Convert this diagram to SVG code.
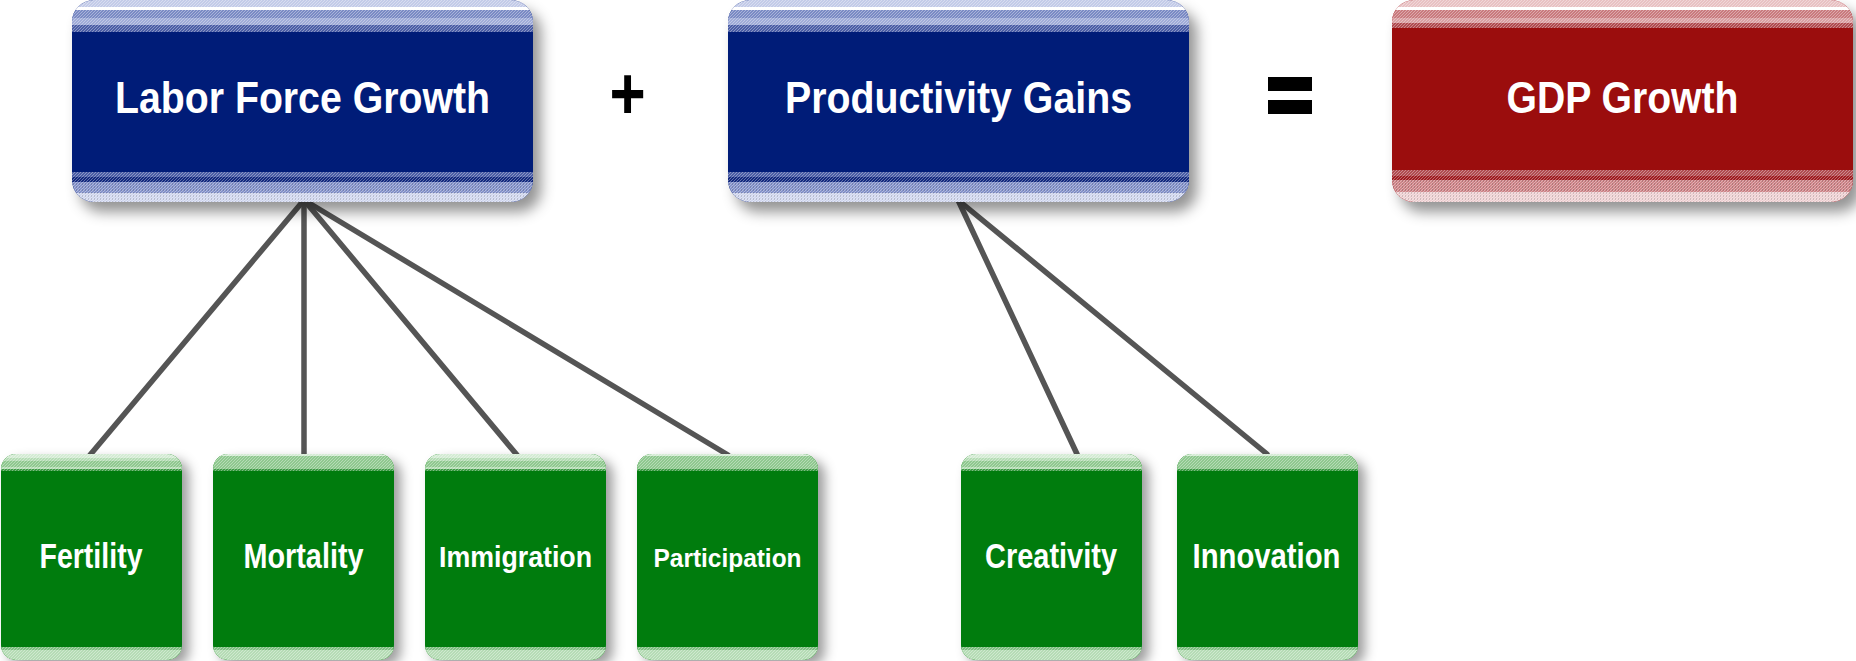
<svg xmlns="http://www.w3.org/2000/svg" width="1856" height="661" viewBox="0 0 1856 661">
  <defs>
    <filter id="shadow" x="-10%" y="-10%" width="130%" height="140%">
      <feDropShadow dx="8" dy="10" stdDeviation="7" flood-color="#000" flood-opacity="0.42"/>
    </filter>
    <filter id="shadowS" x="-15%" y="-10%" width="140%" height="130%">
      <feDropShadow dx="7" dy="6" stdDeviation="6" flood-color="#000" flood-opacity="0.38"/>
    </filter>
    <!-- fine dither texture for the striped bands -->
    <pattern id="dither" width="3" height="3" patternUnits="userSpaceOnUse">
      <rect x="0" y="0" width="1" height="1" fill="#fff"/>
      <rect x="2" y="1" width="1" height="1" fill="#fff"/>
      <rect x="1" y="2" width="1" height="1" fill="#fff"/>
    </pattern>
    <pattern id="ditherD" width="3" height="3" patternUnits="userSpaceOnUse">
      <rect x="1" y="0" width="1" height="2" fill="#000"/>
    </pattern>
    <clipPath id="topClip"><rect x="0" y="0" width="461" height="202" rx="22"/></clipPath>
    <clipPath id="botClip"><rect x="0" y="0" width="181" height="206" rx="15"/></clipPath>
  </defs>
  <style>
    .title { font-family: "Liberation Sans Narrow", "Liberation Sans", Arial, sans-serif; font-weight: bold; fill: #fff; text-anchor: middle; }
    .top { font-size: 44px; }
    .leaf { font-size: 35px; }
    .op { font-family: "Liberation Sans", Arial, sans-serif; font-weight: bold; fill: #000; text-anchor: middle; }
    .link { stroke: #555; stroke-width: 5.5; stroke-linecap: round; fill: none; }
    .blue .body { fill: #001F78; }
    .blue .b1 { fill: #c3cbe8; } .blue .b2 { fill: #7a8ac4; } .blue .b3 { fill: #a0acd8; } .blue .b4 { fill: #4b5ea6; } .blue .b5 { fill: #13297f; } .blue .b6 { fill: #8593cb; } .blue .b7 { fill: #d2d8ef; }
    .red .body { fill: #9B0B10; }
    .red .b1 { fill: #e8c1c3; } .red .b2 { fill: #c97a7e; } .red .b3 { fill: #d9a0a3; } .red .b4 { fill: #b04b50; } .red .b5 { fill: #9e1b20; } .red .b6 { fill: #cf8589; } .red .b7 { fill: #efd2d4; }
    .green .body { fill: #007C0C; }
    .green .g1 { fill: #d4ebd4; } .green .g2 { fill: #8fc88f; } .green .g3 { fill: #b5dcb5; } .green .g4 { fill: #3c9a44; } .green .g5 { fill: #7fbf82; }
    .tex { fill: url(#dither); opacity: 0.35; }
    .texd { fill: url(#ditherD); opacity: 0.12; }
  </style>

  <!-- connectors -->
  <g id="connectors">
    <line class="link" x1="304" y1="200" x2="90" y2="455"/>
    <line class="link" x1="304" y1="200" x2="304" y2="455"/>
    <line class="link" x1="304" y1="200" x2="517" y2="455"/>
    <line class="link" x1="304" y1="200" x2="728" y2="455"/>
    <line class="link" x1="958" y1="200" x2="1077" y2="454"/>
    <line class="link" x1="958" y1="200" x2="1267" y2="454"/>
  </g>

  <!-- top row -->
  <g id="labor" class="blue" transform="translate(72,0)">
    <rect class="body" x="0" y="0" width="461" height="202" rx="22" filter="url(#shadow)"/>
    <g clip-path="url(#topClip)">
      <rect class="b1" x="0" y="0" width="461" height="7"/>
      <rect x="0" y="7" width="461" height="3" fill="#fff"/>
      <rect class="b2" x="0" y="10" width="461" height="8"/>
      <rect class="b3" x="0" y="18" width="461" height="7"/>
      <rect class="b4" x="0" y="25" width="461" height="7"/>
      <rect class="tex" x="0" y="0" width="461" height="32"/>
      <rect class="b4" x="0" y="172" width="461" height="5"/>
      <rect class="b5" x="0" y="177" width="461" height="5"/>
      <rect class="b6" x="0" y="182" width="461" height="11"/>
      <rect class="b7" x="0" y="193" width="461" height="9"/>
      <rect class="tex" x="0" y="172" width="461" height="30"/>
      <rect class="texd" x="0" y="182" width="461" height="20"/>
    </g>
    <text class="title top" x="230.5" y="113" textLength="375" lengthAdjust="spacingAndGlyphs">Labor Force Growth</text>
  </g>

  <g id="plus">
    <text class="op" x="627.5" y="118" font-size="62" transform="translate(627.5,0) scale(1,1.2) translate(-627.5,-19)">+</text>
  </g>

  <g id="productivity" class="blue" transform="translate(728,0)">
    <rect class="body" x="0" y="0" width="461" height="202" rx="22" filter="url(#shadow)"/>
    <g clip-path="url(#topClip)">
      <rect class="b1" x="0" y="0" width="461" height="7"/>
      <rect x="0" y="7" width="461" height="3" fill="#fff"/>
      <rect class="b2" x="0" y="10" width="461" height="8"/>
      <rect class="b3" x="0" y="18" width="461" height="7"/>
      <rect class="b4" x="0" y="25" width="461" height="7"/>
      <rect class="tex" x="0" y="0" width="461" height="32"/>
      <rect class="b4" x="0" y="172" width="461" height="5"/>
      <rect class="b5" x="0" y="177" width="461" height="5"/>
      <rect class="b6" x="0" y="182" width="461" height="11"/>
      <rect class="b7" x="0" y="193" width="461" height="9"/>
      <rect class="tex" x="0" y="172" width="461" height="30"/>
      <rect class="texd" x="0" y="182" width="461" height="20"/>
    </g>
    <text class="title top" x="230.5" y="113" textLength="347" lengthAdjust="spacingAndGlyphs">Productivity Gains</text>
  </g>

  <g id="equals">
    <rect x="1268" y="77" width="44" height="14" fill="#000"/>
    <rect x="1268" y="100" width="44" height="14" fill="#000"/>
  </g>

  <g id="gdp" class="red" transform="translate(1392,0)">
    <rect class="body" x="0" y="0" width="461" height="202" rx="22" filter="url(#shadow)"/>
    <g clip-path="url(#topClip)">
      <rect class="b1" x="0" y="0" width="461" height="7"/>
      <rect x="0" y="7" width="461" height="3" fill="#fff"/>
      <rect class="b2" x="0" y="10" width="461" height="8"/>
      <rect class="b3" x="0" y="18" width="461" height="5"/>
      <rect class="b4" x="0" y="23" width="461" height="5"/>
      <rect class="tex" x="0" y="0" width="461" height="28"/>
      <rect class="b4" x="0" y="170" width="461" height="6"/>
      <rect class="b5" x="0" y="176" width="461" height="4"/>
      <rect class="b6" x="0" y="180" width="461" height="12"/>
      <rect class="b7" x="0" y="192" width="461" height="10"/>
      <rect class="tex" x="0" y="170" width="461" height="32"/>
      <rect class="texd" x="0" y="180" width="461" height="22"/>
    </g>
    <text class="title top" x="230.5" y="113" textLength="232" lengthAdjust="spacingAndGlyphs">GDP Growth</text>
  </g>

  <!-- bottom row -->
  <g id="fertility" class="green" transform="translate(1,454)">
    <rect class="body" x="0" y="0" width="181" height="206" rx="15" filter="url(#shadowS)"/>
    <g clip-path="url(#botClip)">
      <rect class="g1" x="0" y="0" width="181" height="4"/>
      <rect class="g3" x="0" y="4" width="181" height="3"/>
      <rect class="g2" x="0" y="7" width="181" height="6"/>
      <rect class="g3" x="0" y="13" width="181" height="2"/>
      <rect class="g4" x="0" y="15" width="181" height="2"/>
      <rect class="tex" x="0" y="0" width="181" height="17"/>
      <rect class="g5" x="0" y="193" width="181" height="3"/>
      <rect class="g3" x="0" y="196" width="181" height="10"/>
      <rect class="tex" x="0" y="193" width="181" height="13"/>
    </g>
    <text class="title leaf" x="90" y="114" textLength="103" lengthAdjust="spacingAndGlyphs">Fertility</text>
  </g>

  <g id="mortality" class="green" transform="translate(213,454)">
    <rect class="body" x="0" y="0" width="181" height="206" rx="15" filter="url(#shadowS)"/>
    <g clip-path="url(#botClip)">
      <rect class="g1" x="0" y="0" width="181" height="2"/>
      <rect class="g2" x="0" y="2" width="181" height="13"/>
      <rect class="g4" x="0" y="15" width="181" height="2"/>
      <rect class="tex" x="0" y="0" width="181" height="17"/>
      <rect class="g5" x="0" y="193" width="181" height="3"/>
      <rect class="g3" x="0" y="196" width="181" height="10"/>
      <rect class="tex" x="0" y="193" width="181" height="13"/>
    </g>
    <text class="title leaf" x="90.5" y="114" textLength="120" lengthAdjust="spacingAndGlyphs">Mortality</text>
  </g>

  <g id="immigration" class="green" transform="translate(425,454)">
    <rect class="body" x="0" y="0" width="181" height="206" rx="15" filter="url(#shadowS)"/>
    <g clip-path="url(#botClip)">
      <rect class="g1" x="0" y="0" width="181" height="4"/>
      <rect class="g3" x="0" y="4" width="181" height="3"/>
      <rect class="g2" x="0" y="7" width="181" height="6"/>
      <rect class="g3" x="0" y="13" width="181" height="2"/>
      <rect class="g4" x="0" y="15" width="181" height="2"/>
      <rect class="tex" x="0" y="0" width="181" height="17"/>
      <rect class="g5" x="0" y="193" width="181" height="3"/>
      <rect class="g3" x="0" y="196" width="181" height="10"/>
      <rect class="tex" x="0" y="193" width="181" height="13"/>
    </g>
    <text class="title" font-size="30" x="90.5" y="113" textLength="153" lengthAdjust="spacingAndGlyphs">Immigration</text>
  </g>

  <g id="participation" class="green" transform="translate(637,454)">
    <rect class="body" x="0" y="0" width="181" height="206" rx="15" filter="url(#shadowS)"/>
    <g clip-path="url(#botClip)">
      <rect class="g1" x="0" y="0" width="181" height="2"/>
      <rect class="g2" x="0" y="2" width="181" height="13"/>
      <rect class="g4" x="0" y="15" width="181" height="2"/>
      <rect class="tex" x="0" y="0" width="181" height="17"/>
      <rect class="g5" x="0" y="193" width="181" height="3"/>
      <rect class="g3" x="0" y="196" width="181" height="10"/>
      <rect class="tex" x="0" y="193" width="181" height="13"/>
    </g>
    <text class="title" font-size="25" x="90.5" y="113" textLength="148" lengthAdjust="spacingAndGlyphs">Participation</text>
  </g>

  <g id="creativity" class="green" transform="translate(961,454)">
    <rect class="body" x="0" y="0" width="181" height="206" rx="15" filter="url(#shadowS)"/>
    <g clip-path="url(#botClip)">
      <rect class="g1" x="0" y="0" width="181" height="4"/>
      <rect class="g3" x="0" y="4" width="181" height="3"/>
      <rect class="g2" x="0" y="7" width="181" height="6"/>
      <rect class="g3" x="0" y="13" width="181" height="2"/>
      <rect class="g4" x="0" y="15" width="181" height="2"/>
      <rect class="tex" x="0" y="0" width="181" height="17"/>
      <rect class="g5" x="0" y="193" width="181" height="3"/>
      <rect class="g3" x="0" y="196" width="181" height="10"/>
      <rect class="tex" x="0" y="193" width="181" height="13"/>
    </g>
    <text class="title leaf" x="90" y="114" textLength="132" lengthAdjust="spacingAndGlyphs">Creativity</text>
  </g>

  <g id="innovation" class="green" transform="translate(1177,454)">
    <rect class="body" x="0" y="0" width="181" height="206" rx="15" filter="url(#shadowS)"/>
    <g clip-path="url(#botClip)">
      <rect class="g1" x="0" y="0" width="181" height="2"/>
      <rect class="g2" x="0" y="2" width="181" height="13"/>
      <rect class="g4" x="0" y="15" width="181" height="2"/>
      <rect class="tex" x="0" y="0" width="181" height="17"/>
      <rect class="g5" x="0" y="193" width="181" height="3"/>
      <rect class="g3" x="0" y="196" width="181" height="10"/>
      <rect class="tex" x="0" y="193" width="181" height="13"/>
    </g>
    <text class="title leaf" x="89.5" y="114" textLength="148" lengthAdjust="spacingAndGlyphs">Innovation</text>
  </g>
</svg>
